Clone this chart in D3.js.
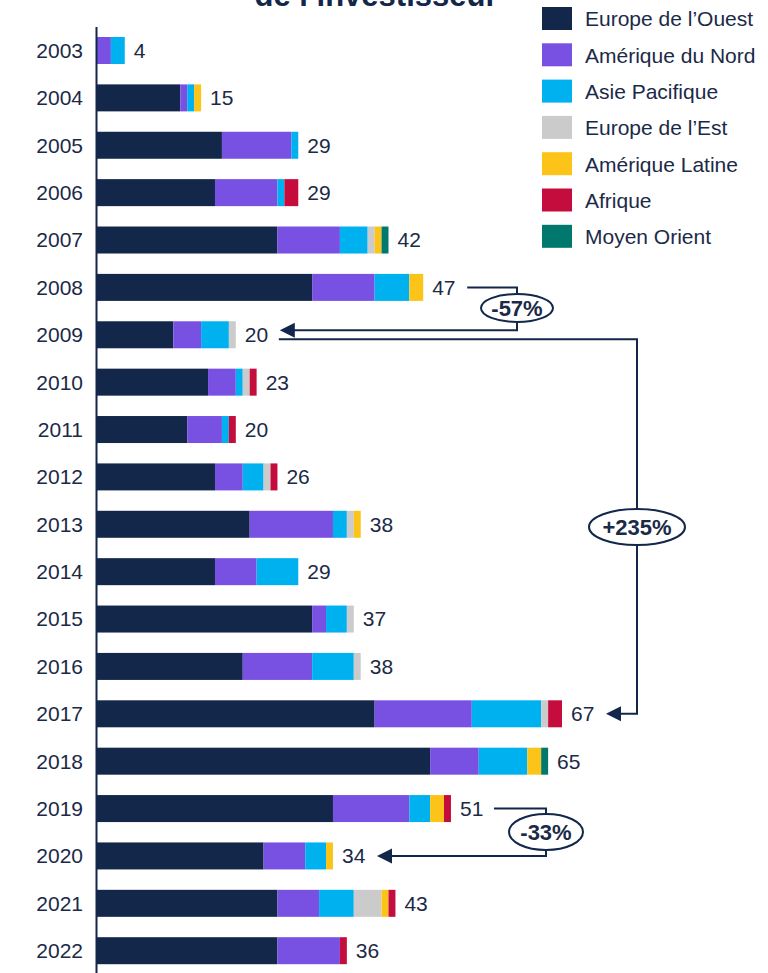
<!DOCTYPE html>
<html>
<head>
<meta charset="utf-8">
<script src="https://cdn.jsdelivr.net/npm/d3@7"></script>
<style>
  body { margin: 0; background: #fff; }
  svg { display: block; font-family: Arial, "Liberation Sans", sans-serif; }
  .lbl { fill: #1b2a47; font-size: 21px; }
  .leg { fill: #1b2a47; font-size: 21px; }
  .pct { fill: #1b2a47; font-size: 22px; font-weight: bold; }
  .link { fill: none; stroke: #13274a; stroke-width: 2; }
</style>
</head>
<body>
<svg width="768" height="973"></svg>
<script>
const years = ["2003","2004","2005","2006","2007","2008","2009","2010","2011","2012",
               "2013","2014","2015","2016","2017","2018","2019","2020","2021","2022"];

const regions = ["Europe de l’Ouest", "Amérique du Nord", "Asie Pacifique",
                 "Europe de l’Est", "Amérique Latine", "Afrique", "Moyen Orient"];

const colors = ["#13274a", "#7851e2", "#00b1f0", "#cbcbcb", "#fcc419", "#c40d3c", "#00786e"];

// one array per region, one value per year
const westEurope  = [0, 12, 18, 17, 26, 31, 11, 16, 13, 17, 22, 17, 31, 21, 40, 48, 34, 24, 26, 26];
const northAm     = [2,  1, 10,  9,  9,  9,  4,  4,  5,  4, 12,  6,  2, 10, 14,  7, 11,  6,  6,  9];
const asiaPac     = [2,  1,  1,  1,  4,  5,  4,  1,  1,  3,  2,  6,  3,  6, 10,  7,  3,  3,  5,  0];
const eastEurope  = [0,  0,  0,  0,  1,  0,  1,  1,  0,  1,  1,  0,  1,  1,  1,  0,  0,  0,  4,  0];
const latinAm     = [0,  1,  0,  0,  1,  2,  0,  0,  0,  0,  1,  0,  0,  0,  0,  2,  2,  1,  1,  0];
const africa      = [0,  0,  0,  2,  0,  0,  0,  1,  1,  1,  0,  0,  0,  0,  2,  0,  1,  0,  1,  1];
const middleEast  = [0,  0,  0,  0,  1,  0,  0,  0,  0,  0,  0,  0,  0,  0,  0,  1,  0,  0,  0,  0];

const totals = [4, 15, 29, 29, 42, 47, 20, 23, 20, 26, 38, 29, 37, 38, 67, 65, 51, 34, 43, 36];

const series = [westEurope, northAm, asiaPac, eastEurope, latinAm, africa, middleEast];

const svg = d3.select("svg");

const x = d3.scaleLinear().domain([0, 67]).range([97, 562]);
const y = d3.scalePoint().domain(years).range([50.5, 950.7]);
const color = d3.scaleOrdinal().domain(regions).range(colors);
const barH = 27;

// title, cut by the top edge as in the source
svg.append("text")
  .attr("x", 376)
  .attr("y", 6)
  .attr("text-anchor", "middle")
  .style("font-size", "31px")
  .style("font-weight", "bold")
  .style("fill", "#13274a")
  .text("de l’investisseur");

// stacked bars
const table = years.map(function(yr, i) {
  const row = {year: yr};
  regions.forEach(function(r, k) { row[r] = series[k][i]; });
  return row;
});

const stack = d3.stack().keys(regions)(table);

svg.append("g").selectAll("g")
  .data(stack)
  .enter()
  .append("g")
  .attr("fill", d => color(d.key))
  .selectAll("rect")
  .data(d => d)
  .enter()
  .append("rect")
  .filter(d => d[1] > d[0])
  .attr("x", d => x(d[0]))
  .attr("y", d => y(d.data.year) - barH / 2)
  .attr("width", d => x(d[1]) - x(d[0]))
  .attr("height", barH);

// axis line
svg.append("line")
  .attr("x1", x(0) - 0.5).attr("x2", x(0) - 0.5)
  .attr("y1", 27).attr("y2", 973)
  .attr("stroke", "#13274a")
  .attr("stroke-width", 2);

// year labels
svg.append("g").selectAll("text")
  .data(years)
  .enter()
  .append("text")
  .attr("class", "lbl")
  .attr("x", 83)
  .attr("y", d => y(d))
  .attr("dy", "0.35em")
  .attr("text-anchor", "end")
  .text(d => d);

// total labels
svg.append("g").selectAll("text")
  .data(years)
  .enter()
  .append("text")
  .attr("class", "lbl")
  .attr("x", (d, i) => x(totals[i]) + 9)
  .attr("y", d => y(d))
  .attr("dy", "0.35em")
  .text((d, i) => totals[i]);

// legend
const legend = svg.append("g").selectAll("g")
  .data(regions)
  .enter()
  .append("g")
  .attr("transform", (d, i) => "translate(542," + (7 + i * 36.3) + ")");

legend.append("rect")
  .attr("width", 30)
  .attr("height", 23)
  .attr("fill", d => color(d));

legend.append("text")
  .attr("class", "leg")
  .attr("x", 43)
  .attr("y", 12)
  .attr("dy", "0.35em")
  .text(d => d);

// growth annotations
function arrowHead(tipX, tipY) {
  svg.append("path")
    .attr("d", "M" + tipX + "," + tipY + "l15,-7.5l0,15z")
    .attr("fill", "#13274a");
}

function badge(cx, cy, rx, ry, label) {
  svg.append("ellipse")
    .attr("cx", cx).attr("cy", cy)
    .attr("rx", rx).attr("ry", ry)
    .attr("fill", "#fff")
    .attr("stroke", "#13274a")
    .attr("stroke-width", 2);
  svg.append("text")
    .attr("class", "pct")
    .attr("x", cx)
    .attr("y", cy)
    .attr("dy", "0.36em")
    .attr("text-anchor", "middle")
    .text(label);
}

const labelEnd = v => x(v) + 44;

// 2008 -> 2009
let y0 = y("2008"), y1 = y("2009") - 4.5;
svg.append("path").attr("class", "link")
  .attr("d", "M" + (labelEnd(47)) + "," + y0 + "H517V" + y1 + "H" + (labelEnd(20) + 8));
arrowHead(labelEnd(20), y1);
badge(517, 308, 36, 14, "-57%");

// 2009 -> 2017
y0 = y("2009") + 4.5; y1 = y("2017");
svg.append("path").attr("class", "link")
  .attr("d", "M" + (labelEnd(20) - 1) + "," + y0 + "H637V" + y1 + "H" + (labelEnd(67) + 8));
arrowHead(labelEnd(67), y1);
badge(637, 527, 48, 18, "+235%");

// 2019 -> 2020
y0 = y("2019"); y1 = y("2020");
svg.append("path").attr("class", "link")
  .attr("d", "M" + (labelEnd(51) - 1) + "," + y0 + "H546V" + y1 + "H" + (labelEnd(34) + 8));
arrowHead(labelEnd(34), y1);
badge(546, 832, 37, 18, "-33%");
</script>
</body>
</html>
